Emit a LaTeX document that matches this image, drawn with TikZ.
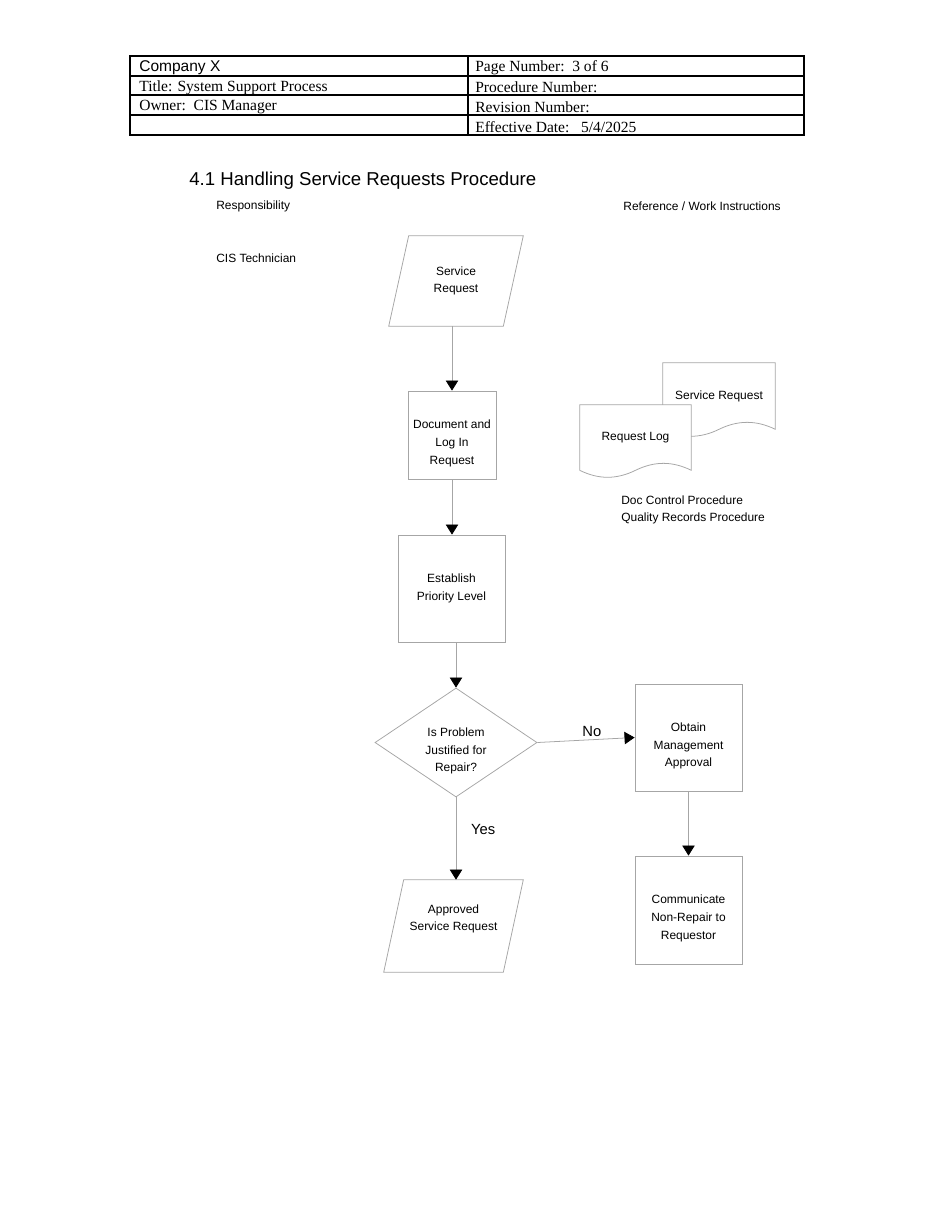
\documentclass[tikz,border=0pt]{standalone}
\usepackage{fontspec}
\setmainfont{Liberation Serif}
\newfontfamily\arial{Liberation Sans}
\usetikzlibrary{shapes.geometric,arrows.meta}
\def\pxu{0.644pt}

\begin{document}
\begin{tikzpicture}[x=0.644pt, y=-0.644pt]
	\tikzstyle{every node}=[font=\arial\fontsize{7.7}{11.3}\selectfont, align=center, inner sep=0pt]
	\tikzstyle{proc}=[draw=gray!70, line width=0.5pt, rectangle]
	\tikzstyle{doc}=[draw=gray!70, line width=0.5pt]
	\tikzstyle{flow}=[draw=gray!70, line width=0.5pt, -{Triangle[width=8pt, length=6.5pt, color=black]}]
	\tikzstyle{hdr}=[font=\fontsize{10}{12}\selectfont, anchor=west]
	\tikzstyle{low}=[text height=39pt]

	\useasboundingbox (0, 0) rectangle (950, 1230);

	% header table
	\draw[line width=1.6pt] (130, 56) rectangle (804, 135);
	\draw[line width=0.8pt] (130, 76) -- (804, 76) (130, 95) -- (804, 95) (130, 115) -- (804, 115) (468, 56) -- (468, 135);
	\node[hdr, font=\arial\fontsize{10}{12}\selectfont](Company) at (139, 68) {Company X};
	\node[hdr](Title_Row) at (139, 87.5) {Title: System Support Process};
	\node[hdr](Owner) at (139, 107) {Owner:\ \ CIS Manager};
	\node[hdr](Page_No) at (475, 68) {Page Number:\ \ 3 of 6};
	\node[hdr](Proc_No) at (475, 87.5) {Procedure Number:};
	\node[hdr](Rev_No) at (475, 107) {Revision Number:};
	\node[hdr](Eff_Date) at (475, 127) {Effective Date:\ \ \ 5/4/2025};

	% title
	\node[anchor=base west, font=\arial\fontsize{12}{14}\selectfont](Title) at (189, 185) {4.1 Handling Service Requests Procedure};
	\node[anchor=west](Resp) at (216, 206) {Responsibility};
	\node[anchor=east](Ref_Work) at (781, 206) {Reference / Work Instructions};
	\node[anchor=west](CIS_Tech) at (216, 258) {CIS Technician};

	% service request
	\node[minimum width=114*\pxu, minimum height=90*\pxu](Service_Req) at (456, 281) {Service\\Request};
	\draw[doc] ([xshift=10*\pxu]Service_Req.north west) -- ([xshift=10*\pxu]Service_Req.north east) -- ([xshift=-10*\pxu]Service_Req.south east) -- ([xshift=-10*\pxu]Service_Req.south west) -- cycle;

	% document and log in request
	\node[proc, low, minimum width=88*\pxu, minimum height=88*\pxu](Log_Req) at (452, 435) {Document and\\Log In\\Request};

	% establish priority level
	\node[proc, minimum width=107*\pxu, minimum height=107*\pxu](Priority) at (451.5, 588.5) {Establish\\Priority Level};

	% decision
	\node[draw=gray!70, line width=0.5pt, diamond, aspect=1.49, low, minimum width=162*\pxu, minimum height=109*\pxu](Justified) at (456, 742.5) {Is Problem\\Justified for\\Repair?};

	% obtain management approval
	\node[proc, low, minimum width=107*\pxu, minimum height=107*\pxu](Mgmt_Appr) at (688.5, 737.5) {Obtain\\Management\\Approval};

	% communicate non-repair
	\node[proc, low, minimum width=107*\pxu, minimum height=108*\pxu](Comm_Req) at (688.5, 910) {Communicate\\Non-Repair to\\Requestor};

	% approved service request
	\node[text depth=11pt, minimum width=119*\pxu, minimum height=92*\pxu](Approved_Req) at (453.5, 926) {Approved\\Service Request};
	\draw[doc] ([xshift=10*\pxu]Approved_Req.north west) -- ([xshift=10*\pxu]Approved_Req.north east) -- ([xshift=-10*\pxu]Approved_Req.south east) -- ([xshift=-10*\pxu]Approved_Req.south west) -- cycle;

	% documents
	\node[minimum width=112*\pxu, minimum height=66*\pxu](Doc_SR) at (719, 396) {Service Request};
	\draw[doc] (Doc_SR.south west) -- (Doc_SR.north west) -- (Doc_SR.north east) -- (Doc_SR.south east) .. controls +(-19, -9.3) and +(19, -9.3) .. (Doc_SR.south) .. controls +(-19, 9.3) and +(19, 9.3) .. (Doc_SR.south west);
	\node[fill=white, minimum width=111*\pxu, minimum height=65*\pxu](Doc_Log) at (635.5, 437.5) {Request Log};
	\draw[doc] (Doc_Log.south west) -- (Doc_Log.north west) -- (Doc_Log.north east) -- (Doc_Log.south east) .. controls +(-19, -9.3) and +(19, -9.3) .. (Doc_Log.south) .. controls +(-19, 9.3) and +(19, 9.3) .. (Doc_Log.south west);
	\node[anchor=west, align=left](Procs) at (621, 510) {Doc Control Procedure\\Quality Records Procedure};

	% lines
	\draw[flow] (Log_Req.north |- Service_Req.south) -- (Log_Req.north);
	\draw[flow] (Log_Req.south) -- (Log_Req.south |- Priority.north);
	\draw[flow] (Justified.north |- Priority.south) -- (Justified.north);
	\draw[flow] (Justified.east) -- (Mgmt_Appr.west) node[pos=0.56, above, yshift=2pt, font=\arial\fontsize{9.5}{11}\selectfont]{No};
	\draw[flow] (Mgmt_Appr.south) -- (Comm_Req.north);
	\draw[flow] (Justified.south) -- (Justified.south |- Approved_Req.north) node[pos=0.39, anchor=west, xshift=9.5pt, font=\arial\fontsize{9.5}{11}\selectfont]{Yes};
\end{tikzpicture}
\end{document}
